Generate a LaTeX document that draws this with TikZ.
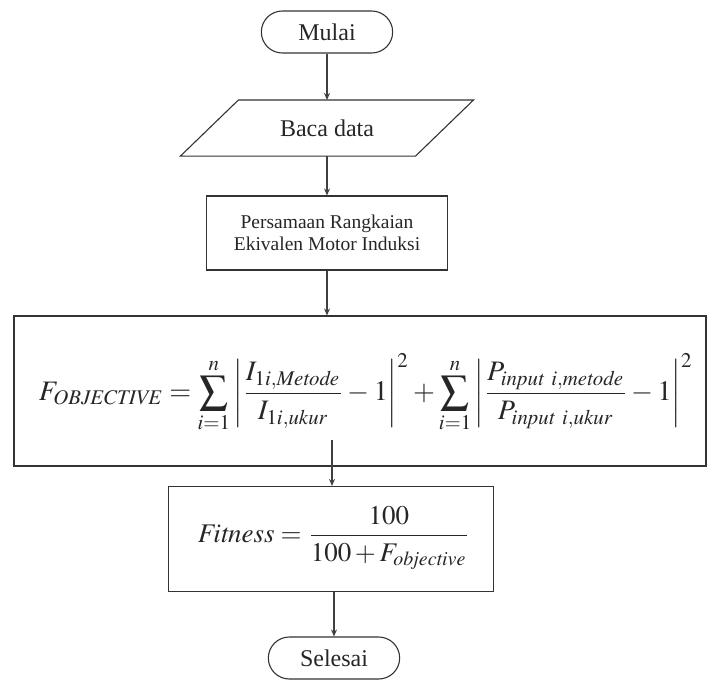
\documentclass[tikz,border=0pt]{standalone}
\usepackage{mathptmx}
\usepackage[no-math]{fontspec}
\setmainfont{Liberation Serif}
\usetikzlibrary{shapes.misc,arrows.meta}
\begin{document}
\begin{tikzpicture}[x=1pt,y=-1pt,
  line width=1.1pt,
  every node/.style={text=black!85},
  terminal/.style={draw=black!80,rounded rectangle,minimum width=138pt,minimum height=42pt,
    font=\fontsize{24}{28}\selectfont},
  process/.style={draw=black!80,rectangle,inner sep=0pt},
  flow/.style={draw=black!75,-{Stealth[length=7pt,width=6pt]}}]
  \useasboundingbox (0,0) rectangle (709,680);

  % start / end
  \node[terminal] (mulai) at (327,32) {Mulai};
  \node[terminal] (selesai) at (334,658) {Selesai};

  % input: parallelogram drawn around an invisible box
  \node[rectangle,minimum width=292pt,minimum height=55pt,inner sep=0pt,
        font=\fontsize{24}{28}\selectfont] (baca) at (327,128) {Baca data};
  \draw[black!80] ([xshift=58pt]baca.north west) -- (baca.north east)
    -- ([xshift=-58pt]baca.south east) -- (baca.south west) -- cycle;

  % equivalent circuit step
  \node[process,minimum width=241pt,minimum height=74pt,align=center,
        font=\fontsize{19.5}{22}\selectfont] (pers) at (327,233)
        {Persamaan Rangkaian\\Ekivalen Motor Induksi};

  % objective function
  \node[process,minimum width=692pt,minimum height=150pt] (big) at (360,391) {};
  \node (objf) at (366,393) {\resizebox{654pt}{!}{$\displaystyle
    F_{\mathit{OBJECTIVE}} = \sum_{i=1}^{n}\left|\frac{I_{1i,\mathit{Metode}}}{I_{1i,\mathit{ukur}}}-1\right|^{2}
    + \sum_{i=1}^{n}\left|\frac{P_{\mathit{input}\ i,\mathit{metode}}}{P_{\mathit{input}\ i,\mathit{ukur}}}-1\right|^{2}$}};

  % fitness
  \node[process,minimum width=325pt,minimum height=105pt] (fit) at (331,539) {};
  \node (fitf) at (334,538) {\resizebox{272pt}{!}{$\displaystyle
    \mathit{Fitness} = \frac{100}{100+F_{\mathit{objective}}}$}};

  \coordinate (tail) at (332,440);

  % connectors
  \draw[flow] (mulai.south) -- (baca.north);
  \draw[flow] (baca.south) -- (pers.north);
  \draw[flow] (pers.south) -- (pers.south |- big.north);
  \draw[flow] (tail) -- (tail |- fit.north);
  \draw[flow] (fit.south -| selesai.north) -- (selesai.north);
\end{tikzpicture}
\end{document}
